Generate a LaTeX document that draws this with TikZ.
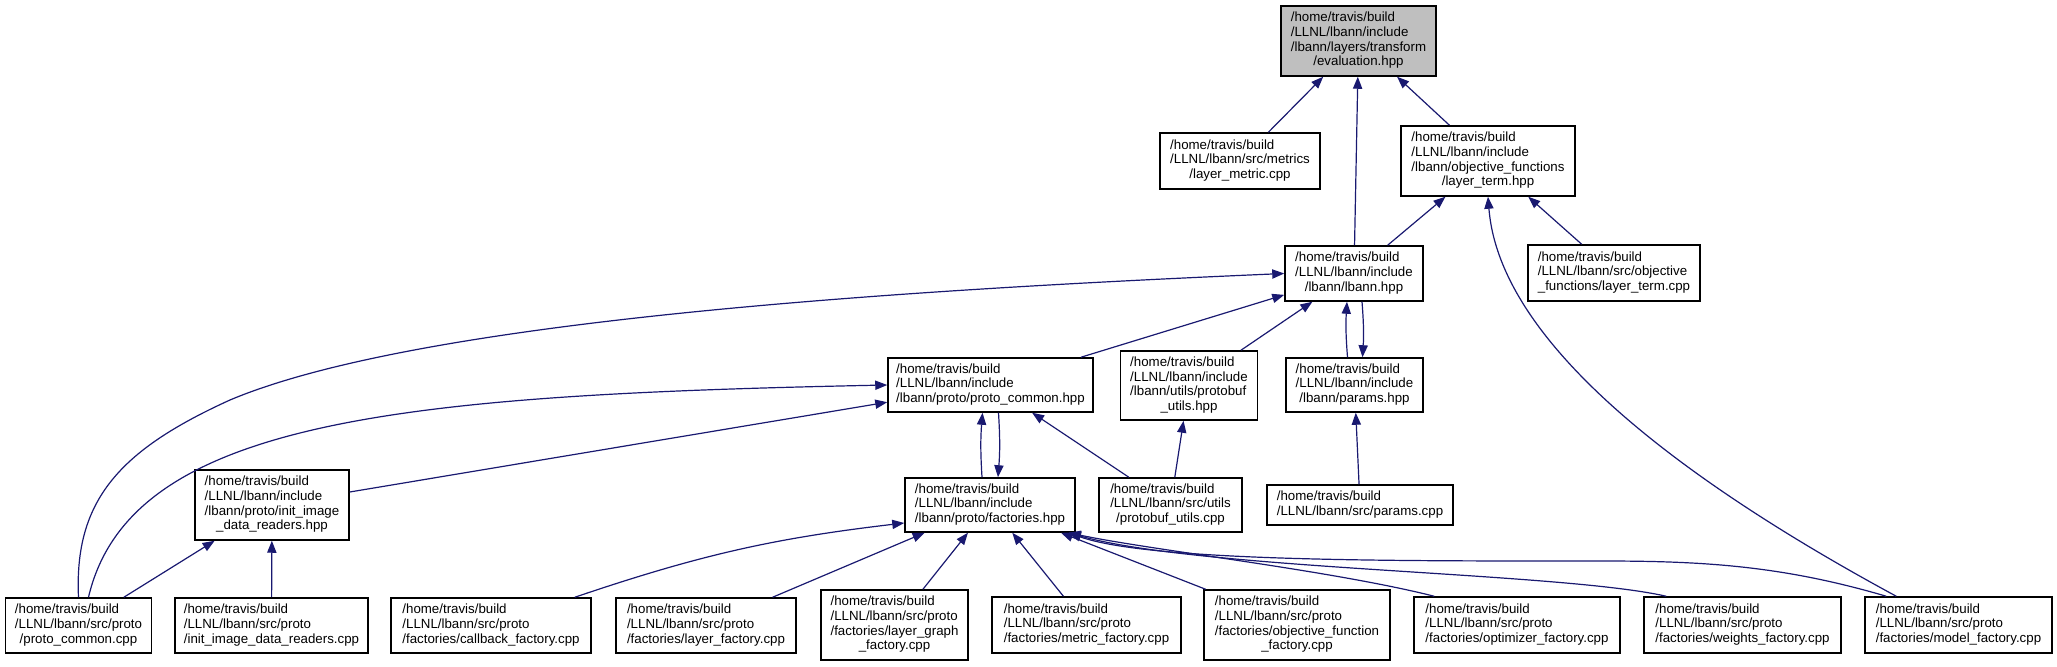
\documentclass[tikz,border=0pt]{standalone}
\usepackage{fontspec}
\setmainfont{Liberation Sans}
\usetikzlibrary{calc,arrows.meta}

\definecolor{edgeblue}{HTML}{191970}
\definecolor{rootgray}{HTML}{BFBFBF}

\newcommand{\flines}[1]{\begin{tabular}{@{}l@{}}#1\end{tabular}}
\newcommand{\flast}[1]{\multicolumn{1}{@{}c@{}}{#1}}

\tikzset{
  file/.style={draw=black, fill=white, line width=0.75pt, inner sep=0pt,
    font=\fontsize{6.65}{7.35}\selectfont},
  inc/.style={draw=edgeblue, line width=0.6pt, -{Triangle[length=6pt,width=4.6pt]}},
}

\begin{document}
\begin{tikzpicture}[x=0.5pt,y=-0.5pt]
    \useasboundingbox (0,0) rectangle (2057,667);

    % top row
    \node[file, fill=rootgray, minimum width=77.5pt, minimum height=35pt] (eval) at (1358.5, 41)
        {\flines{/home/travis/build\\ /LLNL/lbann/include\\ /lbann/layers/transform\\ \flast{/evaluation.hpp}}};
    \node[file, minimum width=80pt, minimum height=28pt] (metric) at (1240, 161)
        {\flines{/home/travis/build\\ /LLNL/lbann/src/metrics\\ \flast{/layer\_metric.cpp}}};
    \node[file, minimum width=87pt, minimum height=35pt] (ltermh) at (1488, 161)
        {\flines{/home/travis/build\\ /LLNL/lbann/include\\ /lbann/objective\_functions\\ \flast{/layer\_term.hpp}}};
    \node[file, minimum width=69pt, minimum height=27.5pt] (lbann) at (1354, 273.5)
        {\flines{/home/travis/build\\ /LLNL/lbann/include\\ \flast{/lbann/lbann.hpp}}};
    \node[file, minimum width=86pt, minimum height=28pt] (ltermc) at (1614, 273)
        {\flines{/home/travis/build\\ /LLNL/lbann/src/objective\\ \flast{\_functions/layer\_term.cpp}}};

    % middle
    \node[file, minimum width=102.5pt, minimum height=27pt] (pch) at (990.5, 385)
        {\flines{/home/travis/build\\ /LLNL/lbann/include\\ \flast{/lbann/proto/proto\_common.hpp}}};
    \node[file, minimum width=68.5pt, minimum height=34.5pt] (pbh) at (1189, 385.5)
        {\flines{/home/travis/build\\ /LLNL/lbann/include\\ /lbann/utils/protobuf\\ \flast{\_utils.hpp}}};
    \node[file, minimum width=68.5pt, minimum height=27pt] (parh) at (1354.5, 385)
        {\flines{/home/travis/build\\ /LLNL/lbann/include\\ \flast{/lbann/params.hpp}}};
    \node[file, minimum width=77pt, minimum height=35pt] (iidrh) at (272, 505)
        {\flines{/home/travis/build\\ /LLNL/lbann/include\\ /lbann/proto/init\_image\\ \flast{\_data\_readers.hpp}}};
    \node[file, minimum width=85pt, minimum height=27pt] (facth) at (990, 505)
        {\flines{/home/travis/build\\ /LLNL/lbann/include\\ \flast{/lbann/proto/factories.hpp}}};
    \node[file, minimum width=71.5pt, minimum height=27pt] (pbc) at (1170.5, 505)
        {\flines{/home/travis/build\\ /LLNL/lbann/src/utils\\ \flast{/protobuf\_utils.cpp}}};
    \node[file, minimum width=93pt, minimum height=20pt] (parc) at (1360, 505)
        {\flines{/home/travis/build\\ \flast{/LLNL/lbann/src/params.cpp}}};

    % bottom row
    \node[file, minimum width=73pt, minimum height=27.5pt] (pcc) at (78.5, 625.5)
        {\flines{/home/travis/build\\ /LLNL/lbann/src/proto\\ \flast{/proto\_common.cpp}}};
    \node[file, minimum width=96.5pt, minimum height=27.5pt] (iidrc) at (271.5, 625.5)
        {\flines{/home/travis/build\\ /LLNL/lbann/src/proto\\ \flast{/init\_image\_data\_readers.cpp}}};
    \node[file, minimum width=100pt, minimum height=27.5pt] (cbf) at (491, 625.5)
        {\flines{/home/travis/build\\ /LLNL/lbann/src/proto\\ \flast{/factories/callback\_factory.cpp}}};
    \node[file, minimum width=90pt, minimum height=27.5pt] (lyf) at (706, 625.5)
        {\flines{/home/travis/build\\ /LLNL/lbann/src/proto\\ \flast{/factories/layer\_factory.cpp}}};
    \node[file, minimum width=73.5pt, minimum height=35pt] (lgf) at (894.5, 625)
        {\flines{/home/travis/build\\ /LLNL/lbann/src/proto\\ /factories/layer\_graph\\ \flast{\_factory.cpp}}};
    \node[file, minimum width=94.5pt, minimum height=28pt] (mtf) at (1086.5, 625)
        {\flines{/home/travis/build\\ /LLNL/lbann/src/proto\\ \flast{/factories/metric\_factory.cpp}}};
    \node[file, minimum width=93pt, minimum height=35pt] (off) at (1297, 625)
        {\flines{/home/travis/build\\ /LLNL/lbann/src/proto\\ /factories/objective\_function\\ \flast{\_factory.cpp}}};
    \node[file, minimum width=103pt, minimum height=28pt] (opf) at (1517, 625)
        {\flines{/home/travis/build\\ /LLNL/lbann/src/proto\\ \flast{/factories/optimizer\_factory.cpp}}};
    \node[file, minimum width=98.5pt, minimum height=28pt] (wtf) at (1742.5, 625)
        {\flines{/home/travis/build\\ /LLNL/lbann/src/proto\\ \flast{/factories/weights\_factory.cpp}}};
    \node[file, minimum width=93.5pt, minimum height=28pt] (mdf) at (1958.5, 625)
        {\flines{/home/travis/build\\ /LLNL/lbann/src/proto\\ \flast{/factories/model\_factory.cpp}}};

    \path[every edge/.style=inc]
    (metric) edge (eval)
    (lbann) edge (eval)
    (ltermh) edge (eval)
    (lbann) edge (ltermh)
    (ltermc) edge (ltermh)
    (pch) edge (lbann)
    (pbh) edge (lbann)
    (parc) edge (parh)
    (pbc) edge (pbh)
    (pbc) edge (pch)
    (iidrh) edge (pch)
    (pcc) edge (iidrh)
    (iidrc) edge (iidrh)
    (lyf) edge (facth)
    (lgf) edge (facth)
    (mtf) edge (facth)
    (off) edge (facth);

    % circular includes
    \draw[inc] ($(parh.north)+(-7,0)$) to[bend left=4] ($(lbann.south)+(-7,0)$);
    \draw[inc] ($(lbann.south)+(8,0)$) to[bend left=4] ($(parh.north)+(8,0)$);
    \draw[inc] ($(facth.north)+(-8,0)$) to[bend left=4] ($(pch.south)+(-8,0)$);
    \draw[inc] ($(pch.south)+(8,0)$) to[bend left=4] ($(facth.north)+(8,0)$);

    % long curves
    \draw[inc] (pcc.north) .. controls (74,500) and (120,450) .. (230,400)
        .. controls (420,320) and (900,290) .. (lbann.west);
    \draw[inc] ($(pcc.north)+(10,0)$) .. controls (130,420) and (400,395) .. (pch.west);
    \draw[inc] ($(cbf.north east)+(-17,0)$) to[bend left=6] ($(facth.west)+(0,18)$);
    \draw[inc] ($(mdf.north west)+(32,0)$) .. controls (1700,490) and (1500,350) .. (ltermh.south);
    \draw[inc] ($(opf.north west)+(21,0)$) .. controls (1330,570) and (1150,550) .. ($(facth.south east)+(-7,0)$);
    \draw[inc] ($(wtf.north west)+(23,0)$) .. controls (1560,572) and (1200,570) .. ($(facth.south east)+(-7,0)$);
    \draw[inc] ($(mdf.north west)+(22,0)$) .. controls (1780,565) and (1700,561) .. (1600,561)
        .. controls (1400,561) and (1150,562) .. ($(facth.south east)+(-7,0)$);
\end{tikzpicture}
\end{document}
